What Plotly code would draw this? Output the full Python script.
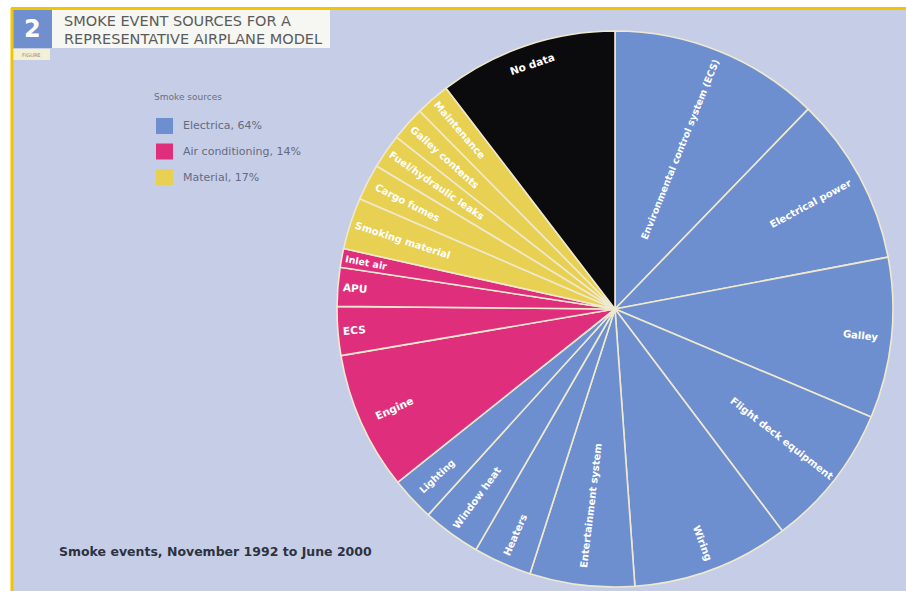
import math
import plotly.graph_objects as go

W, H = 906, 591

labels = ["Environmental control system (ECS)", "Electrical power", "Galley",
          "Flight deck equipment", "Wiring", "Entertainment system", "Heaters",
          "Window heat", "Lighting", "Engine", "ECS", "APU", "Inlet air",
          "Smoking material", "Cargo fumes", "Fuel/hydraulic leaks",
          "Galley contents", "Maintenance", "No data"]
values = [44.0, 35.2, 33.6, 30.1, 32.9, 21.9, 12.2, 12.2, 9.2,
          28.9, 10.2, 8.1, 3.9,
          10.8, 7.6, 7.2, 7.2, 7.2,
          37.4]
groups = ["Electrical"] * 9 + ["Air conditioning"] * 4 + ["Material"] * 5 + ["No data"]

legend_title = "Smoke sources"
legend_names = ["Electrica, 64%", "Air conditioning, 14%", "Material, 17%"]
legend_groups = ["Electrical", "Air conditioning", "Material"]

group_colors = {"Electrical": "#6e8fcf", "Air conditioning": "#df2f7c",
                "Material": "#e8d052", "No data": "#0b0a0c"}
colors = [group_colors[g] for g in groups]

# radial placement of each slice label, as a fraction of the pie radius
label_radius = [0.62, 0.80, 0.89, 0.76, 0.90, 0.71, 0.89, 0.84, 0.88,
                0.87, 0.94, 0.94, 0.91,
                0.80, 0.84, 0.78, 0.82, 0.85,
                0.93]
label_size = [9.5, 10, 10, 10, 10, 10, 10, 10, 9.5,
              10.5, 10.5, 10.5, 9.5,
              10, 10, 10, 10, 10,
              10.5]

FONT = "DejaVu Sans, sans-serif"


def px(x):
    return x / W


def py(y):
    return 1 - y / H


cx, cy, r = 615, 309, 278

fig = go.Figure(go.Pie(
    labels=labels, values=values, sort=False, direction="clockwise", rotation=0,
    marker=dict(colors=colors, line=dict(color="#efe9cf", width=1.6)),
    textinfo="none", hoverinfo="label+percent",
    domain=dict(x=[px(cx - r), px(cx + r)], y=[py(cy + r), py(cy - r)]),
    showlegend=False,
))

shapes = [
    dict(type="rect", xref="paper", yref="paper", x0=px(12), x1=1, y0=0, y1=py(9),
         fillcolor="#c6cee7", line=dict(width=0), layer="below"),
    dict(type="line", xref="paper", yref="paper", x0=px(11), x1=1, y0=py(8.5), y1=py(8.5),
         line=dict(color="#f2c500", width=3), layer="below"),
    dict(type="line", xref="paper", yref="paper", x0=px(12), x1=px(12), y0=0, y1=py(8),
         line=dict(color="#f2c500", width=3), layer="below"),
    dict(type="rect", xref="paper", yref="paper", x0=px(13.5), x1=px(52), y0=py(48), y1=py(10),
         fillcolor="#6f8fcf", line=dict(width=0), layer="below"),
    dict(type="rect", xref="paper", yref="paper", x0=px(52), x1=px(330), y0=py(48), y1=py(10),
         fillcolor="#f6f6f2", line=dict(width=0), layer="below"),
    dict(type="rect", xref="paper", yref="paper", x0=px(13.5), x1=px(50), y0=py(60), y1=py(49),
         fillcolor="#f4f0d6", line=dict(width=0), layer="below"),
]

annotations = [
    dict(text="<b>2</b>", x=px(32), y=py(29), xref="paper", yref="paper", showarrow=False,
         font=dict(family=FONT, size=24, color="white"), xanchor="center", yanchor="middle"),
    dict(text="FIGURE", x=px(31), y=py(55), xref="paper", yref="paper", showarrow=False,
         font=dict(family=FONT, size=5, color="#8a8a8a"), xanchor="center", yanchor="middle"),
    dict(text="SMOKE EVENT SOURCES FOR A", x=px(62), y=py(21), xref="paper", yref="paper",
         showarrow=False, font=dict(family=FONT, size=14.5, color="#5b5b5b"),
         xanchor="left", yanchor="middle"),
    dict(text="REPRESENTATIVE AIRPLANE MODEL", x=px(62), y=py(39), xref="paper", yref="paper",
         showarrow=False, font=dict(family=FONT, size=14.5, color="#5b5b5b"),
         xanchor="left", yanchor="middle"),
    dict(text=legend_title, x=px(152), y=py(97), xref="paper", yref="paper", showarrow=False,
         font=dict(family=FONT, size=9, color="#6a6e7e"), xanchor="left", yanchor="middle"),
    dict(text="<b>Smoke events, November 1992 to June 2000</b>", x=px(57), y=py(551),
         xref="paper", yref="paper", showarrow=False,
         font=dict(family=FONT, size=12.5, color="#2e3240"), xanchor="left", yanchor="middle"),
]

# slice labels placed along each slice's mid-angle (computed from the values)
tot = sum(values)
acc = 0.0
for lab, v, f, s in zip(labels, values, label_radius, label_size):
    mid = (acc + v / 2) / tot * 360.0
    acc += v
    a = math.radians(mid)
    x = cx + f * r * math.sin(a)
    y = cy - f * r * math.cos(a)
    if lab == "No data":
        ang = mid - 360.0  # tangential
    elif mid <= 180:
        ang = mid - 90.0
    else:
        ang = mid - 270.0
    annotations.append(dict(text="<b>%s</b>" % lab, x=px(x), y=py(y), xref="paper",
                            yref="paper", showarrow=False, textangle=ang,
                            font=dict(family=FONT, size=s, color="white"),
                            xanchor="center", yanchor="middle"))

for i, (name, g) in enumerate(zip(legend_names, legend_groups)):
    yc = 126 + i * 25.5
    shapes.append(dict(type="rect", xref="paper", yref="paper", x0=px(156), x1=px(173),
                       y0=py(yc + 8), y1=py(yc - 8), fillcolor=group_colors[g],
                       line=dict(width=0), layer="below"))
    annotations.append(dict(text=name, x=px(181), y=py(yc), xref="paper", yref="paper",
                            showarrow=False, font=dict(family=FONT, size=11, color="#656a80"),
                            xanchor="left", yanchor="middle"))

fig.update_layout(
    width=W, height=H, margin=dict(l=0, r=0, t=0, b=0),
    paper_bgcolor="white", plot_bgcolor="white",
    shapes=shapes, annotations=annotations,
)

fig.write_html("out.html")
